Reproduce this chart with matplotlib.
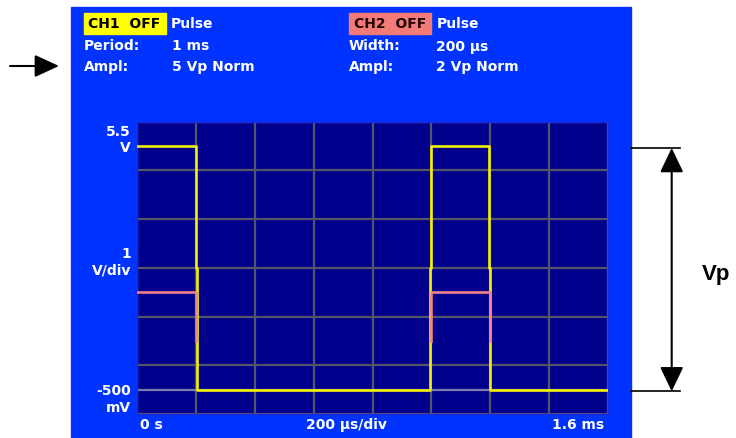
import matplotlib.pyplot as plt
import numpy as np

# ---- data ----
t_div = 0.2                       # ms per division
t_range = [0.0, 1.6]              # ms
v_range = [-0.5, 5.5]             # V, 1 V/div
ch1_t = [0, 0.2, 0.2, 0.206, 0.206, 0.994, 0.994, 1.0, 1.0, 1.194, 1.194, 1.2, 1.2, 1.6]
ch1_v = [5, 5, 2.5, 2.5, 0, 0, 2.5, 2.5, 5, 5, 2.5, 2.5, 0, 0]
ch2_t = [0, 0.2, 0.2, np.nan, 1.0, 1.0, 1.2, 1.2]
ch2_v = [2, 2, 1, np.nan, 1, 2, 2, 1]

header_ch1 = [("Period:", "1 ms"), ("Ampl:", "5 Vp Norm")]
header_ch2 = [("Width:", "200 µs"), ("Ampl:", "2 Vp Norm")]
y_labels = [("5.5", "V"), ("1", "V/div"), ("-500", "mV")]
x_labels = ["0 s", "200 µs/div", "1.6 ms"]

W, H = 736, 439
panel_blue = '#0033ff'
screen = '#00008c'
grid_c = '#55556a'
yellow = '#f2f200'
pink = '#f08088'

fig = plt.figure(figsize=(W / 100, H / 100), dpi=100)

# background layer in pixel coordinates (origin top-left)
bg = fig.add_axes([0, 0, 1, 1])
bg.set_xlim(0, W)
bg.set_ylim(H, 0)
bg.axis('off')

bg.add_patch(plt.Rectangle((71, 8), 560, H - 8, color=panel_blue, zorder=0))

txt = dict(color='white', fontsize=10, fontweight='bold', family='DejaVu Sans', va='center')

# channel header boxes
bg.add_patch(plt.Rectangle((83.5, 14), 82, 20.5, color='#ffff00', zorder=1))
bg.text(124.5, 24.5, "CH1  OFF", **{**txt, 'color': 'black', 'ha': 'center'})
bg.text(171, 24.5, "Pulse", ha='left', **txt)
bg.add_patch(plt.Rectangle((349, 14), 82, 20.5, color='#f47a78', zorder=1))
bg.text(390, 24.5, "CH2  OFF", **{**txt, 'color': '#200000', 'ha': 'center'})
bg.text(436.5, 24.5, "Pulse", ha='left', **txt)
for i, (k, v) in enumerate(header_ch1):
    y = 46.5 + 20 * i
    bg.text(84, y, k, ha='left', **txt)
    bg.text(171.5, y, v, ha='left', **txt)
for i, (k, v) in enumerate(header_ch2):
    y = 46.5 + 20 * i
    bg.text(349, y, k, ha='left', **txt)
    bg.text(436.5, y, v, ha='left', **txt)

# axis labels on the screen
for (a, b), ya in zip(y_labels, [132, 254, 391.5]):
    bg.text(131, ya, a, ha='right', **txt)
    bg.text(131, ya + 16.5, b, ha='right', **txt)
bg.text(140, 425.5, x_labels[0], ha='left', **txt)
bg.text(306.5, 425.5, x_labels[1], ha='left', **txt)
bg.text(604, 425.5, x_labels[2], ha='right', **txt)

# annotations outside the screen
arrow = dict(arrowstyle='-|>,head_length=1.0,head_width=0.46', color='black',
             lw=1.5, mutation_scale=15, shrinkA=0, shrinkB=0)
bg.annotate('', xy=(59, 67), xytext=(10, 67), arrowprops=arrow)
bg.plot([630.5, 680], [149, 149], color='black', lw=1.2)
bg.plot([630.5, 680], [392.3, 392.3], color='black', lw=1.2)
arrow2 = dict(arrow, arrowstyle='<|-|>,head_length=1.0,head_width=0.48')
bg.annotate('', xy=(671.7, 149), xytext=(671.7, 392.3), arrowprops=arrow2)
bg.text(702, 280, "Vp", ha='left', va='baseline', fontsize=16, fontweight='bold',
        family='Liberation Sans', color='black')

# the scope screen
left, right, top, bottom = 136.7, 608.3, 122.5, 415
ax = fig.add_axes([left / W, 1 - bottom / H, (right - left) / W, (bottom - top) / H])
ax.set_facecolor(screen)
ax.set_xlim(t_range)
ax.set_ylim(v_range)
ax.set_xticks(np.arange(t_range[0], t_range[1] + 1e-9, t_div))
ax.set_yticks(np.arange(v_range[0], v_range[1] + 1e-9, 1.0))
ax.grid(True, color=grid_c, lw=1.6)
ax.tick_params(length=0, labelbottom=False, labelleft=False)
for s in ax.spines.values():
    s.set_color('#1a2ad8')
    s.set_linewidth(1)
ax.axhline(0, color='#7c7cb0', lw=1.6, zorder=2)
ax.plot(ch1_t, ch1_v, color=yellow, lw=1.9, zorder=3)
ax.plot(ch2_t, ch2_v, color=pink, lw=1.9, zorder=4)

fig.savefig('out.png', dpi=100)
